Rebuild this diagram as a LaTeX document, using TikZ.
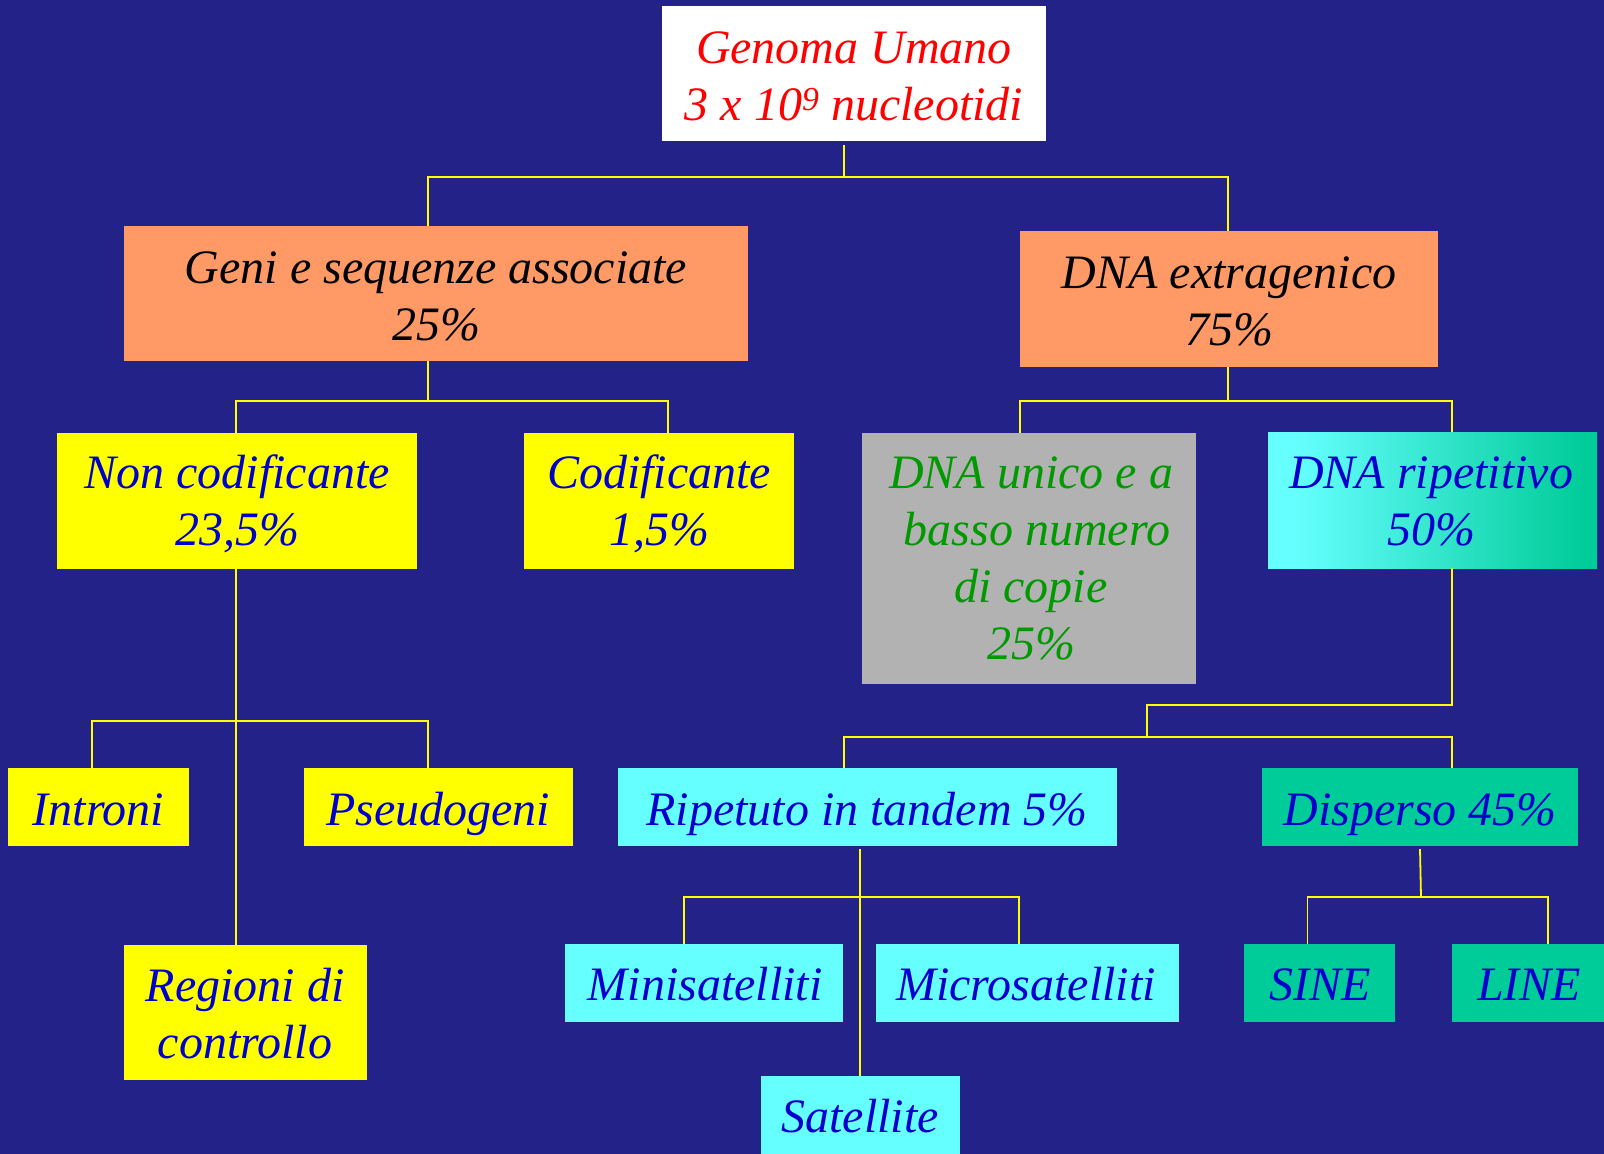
\documentclass[tikz,border=0pt]{standalone}
\usepackage{fontspec}
\setmainfont{Liberation Serif}
\definecolor{bgblue}{HTML}{222288}
\definecolor{wireyellow}{HTML}{FFFF00}
\definecolor{orangebox}{HTML}{FF9966}
\definecolor{yellowbox}{HTML}{FFFF00}
\definecolor{cyanbox}{HTML}{66FFFF}
\definecolor{greenbox}{HTML}{00CC99}
\definecolor{graybox}{HTML}{B2B2B2}
\definecolor{bluetxt}{HTML}{0000CC}
\definecolor{greentxt}{HTML}{009900}
\definecolor{redtxt}{HTML}{FF0000}
% cyan on the left, fading to green towards the right edge
\pgfdeclarehorizontalshading{ripshade}{100bp}{color(0bp)=(cyanbox); color(29bp)=(cyanbox); color(73bp)=(greenbox); color(100bp)=(greenbox)}
\newcommand\twolines[2]{\begin{tabular}[t]{@{}c@{}}#1\\#2\end{tabular}}
\begin{document}
\begin{tikzpicture}[x=1pt,y=-1pt,
  box/.style={rectangle,inner sep=0pt,outer sep=0pt,draw=none},
  txt/.style={inner sep=0pt,anchor=base,font=\fontsize{48}{57}\selectfont\itshape},
  wire/.style={draw=wireyellow,line width=1.8pt}]

% background and page size
\fill[bgblue] (0,0) rectangle (1604,1154);
\useasboundingbox (0,0) rectangle (1604,1154);

% ---- boxes ----
\node[box,fill=white,minimum width=384,minimum height=135] (genoma) at (854,73.5) {};
\node[box,fill=orangebox,minimum width=624,minimum height=135] (geni) at (436,293.5) {};
\node[box,fill=orangebox,minimum width=418,minimum height=136] (dnaex) at (1229,299) {};
\node[box,fill=yellowbox,minimum width=360,minimum height=136] (noncod) at (237,501) {};
\node[box,fill=yellowbox,minimum width=270,minimum height=136] (cod) at (659,501) {};
\node[box,fill=graybox,minimum width=334,minimum height=251] (unico) at (1029,558.5) {};
\node[box,shading=ripshade,minimum width=329,minimum height=136] (ripet) at (1432.5,500) {};
\node[box,fill=yellowbox,minimum width=181,minimum height=78] (introni) at (98.5,807) {};
\node[box,fill=yellowbox,minimum width=269,minimum height=78] (pseudo) at (438.5,807) {};
\node[box,fill=yellowbox,minimum width=243,minimum height=135] (regioni) at (245.5,1012.5) {};
\node[box,fill=cyanbox,minimum width=499,minimum height=78] (tandem) at (867.5,807) {};
\node[box,fill=greenbox,minimum width=316,minimum height=78] (disperso) at (1420,807) {};
\node[box,fill=cyanbox,minimum width=278,minimum height=78] (mini) at (704,983) {};
\node[box,fill=cyanbox,minimum width=303,minimum height=78] (micro) at (1027.5,983) {};
\node[box,fill=greenbox,minimum width=151,minimum height=78] (sine) at (1319.5,983) {};
\node[box,fill=greenbox,minimum width=152,minimum height=78] (line) at (1528,983) {};
\node[box,fill=cyanbox,minimum width=199,minimum height=78] (satellite) at (860.5,1115) {};

% ---- labels ----
\node[txt,text=redtxt] (genoma-t) at (854,63) {\twolines{Genoma Umano}{3 x 10\textsuperscript{9} nucleotidi}};
\node[txt,text=black] (geni-t) at (436,283) {\twolines{Geni e sequenze associate}{25\%}};
\node[txt,text=black] (dnaex-t) at (1229,288) {\twolines{DNA extragenico}{75\%}};
\node[txt,text=bluetxt] (noncod-t) at (237,488) {\twolines{Non codificante}{23,5\%}};
\node[txt,text=bluetxt] (cod-t) at (659,488) {\twolines{Codificante}{1,5\%}};
\node[txt,text=greentxt] (unico-t) at (1031,488) {\begin{tabular}[t]{@{}c@{}}DNA unico e a\\\ basso numero\\di copie\\25\%\end{tabular}};
\node[txt,text=bluetxt] (ripet-t) at (1431,488) {\twolines{DNA ripetitivo}{50\%}};
\node[txt,text=bluetxt] (introni-t) at (98.5,825) {Introni};
\node[txt,text=bluetxt] (pseudo-t) at (438,825) {Pseudogeni};
\node[txt,text=bluetxt] (regioni-t) at (245,1001) {\twolines{Regioni di}{controllo}};
\node[txt,text=bluetxt] (tandem-t) at (867,825) {Ripetuto in tandem 5\%};
\node[txt,text=bluetxt] (disperso-t) at (1420,825) {Disperso 45\%};
\node[txt,text=bluetxt] (mini-t) at (705,1000) {Minisatelliti};
\node[txt,text=bluetxt] (micro-t) at (1026,1000) {Microsatelliti};
\node[txt,text=bluetxt] (sine-t) at (1320,1000) {SINE};
\node[txt,text=bluetxt] (line-t) at (1529,1000) {LINE};
\node[txt,text=bluetxt] (satellite-t) at (860,1132) {Satellite};

% ---- connectors ----
% Genoma Umano
\coordinate (b1) at (844,177);
\draw[wire] ([xshift=-10pt,yshift=-4pt]genoma.south) -- (b1);
\draw[wire] ([xshift=-8pt]geni.north) |- (b1) -| ([xshift=-1pt]dnaex.north);
% Geni e sequenze associate
\coordinate (b2) at (428,401);
\draw[wire] ([xshift=-8pt]geni.south) -- (b2);
\draw[wire] ([xshift=-1pt]noncod.north) |- (b2) -| ([xshift=9pt]cod.north);
% DNA extragenico
\coordinate (b3) at (1228,401);
\draw[wire] ([xshift=-1pt]dnaex.south) -- (b3);
\draw[wire] ([xshift=-9pt]unico.north) |- (b3) -| ([xshift=19.5pt]ripet.north);
% DNA ripetitivo
\coordinate (b4) at (1147,705);
\coordinate (b5) at (1147,737);
\draw[wire] ([xshift=19.5pt]ripet.south) |- (b4) -- (b5);
\draw[wire] ([xshift=-23.5pt]tandem.north) |- (b5) -| ([xshift=32pt]disperso.north);
% Non codificante
\coordinate (b6) at (236,721);
\draw[wire] ([xshift=-1pt]noncod.south) -- ([xshift=-9.5pt]regioni.north);
\draw[wire] ([xshift=-6.5pt]introni.north) |- (b6) -| ([xshift=-10.5pt]pseudo.north);
% Ripetuto in tandem
\coordinate (b7) at (860,897);
\draw[wire] ([xshift=-7.5pt,yshift=-3pt]tandem.south) -- ([xshift=-0.5pt]satellite.north);
\draw[wire] ([xshift=-20pt]mini.north) |- (b7) -| ([xshift=-8.5pt]micro.north);
% Disperso
\coordinate (b8) at (1421,897);
\draw[wire] ([yshift=-3pt]disperso.south) -- (b8);
\draw[wire] ([xshift=-12pt]sine.north) |- (b8) -| ([xshift=20pt]line.north);
\end{tikzpicture}
\end{document}
